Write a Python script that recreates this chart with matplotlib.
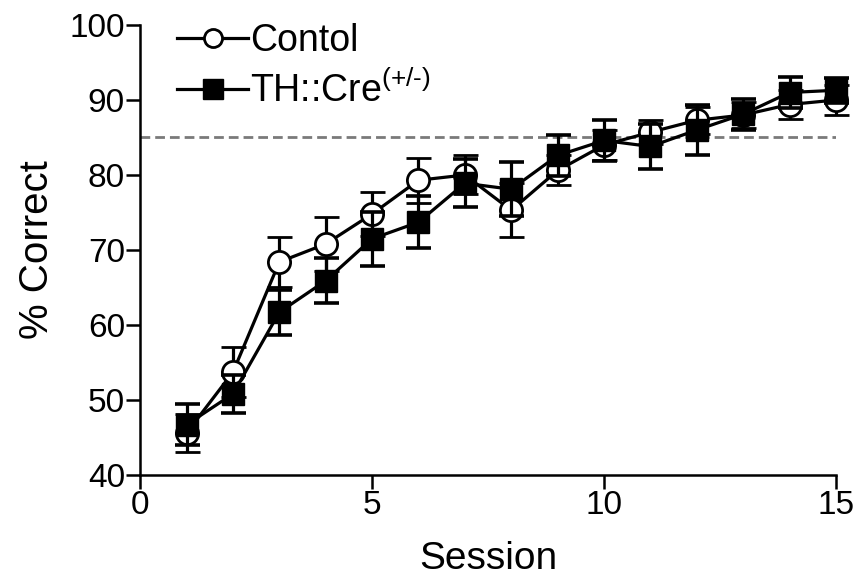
import matplotlib
matplotlib.use("Agg")
import matplotlib.pyplot as plt
from matplotlib.lines import Line2D

plt.rcParams["font.family"] = ["Liberation Sans", "DejaVu Sans"]
plt.rcParams["mathtext.fontset"] = "custom"
plt.rcParams["mathtext.rm"] = "Liberation Sans"
plt.rcParams["mathtext.default"] = "regular"

sessions = list(range(1, 16))
control_mean = [45.6, 53.7, 68.4, 70.8, 74.8, 79.3, 80.0, 75.3, 80.6, 84.0, 85.7, 87.3, 88.0, 89.4, 90.0]
control_sem = [2.5, 3.3, 3.3, 3.6, 2.9, 3.0, 2.6, 3.6, 2.0, 2.0, 1.6, 1.8, 1.8, 1.9, 2.0]
th_mean = [46.7, 50.8, 61.7, 65.9, 71.5, 73.7, 78.9, 78.1, 82.6, 84.6, 83.8, 86.0, 88.1, 91.0, 91.3]
th_sem = [2.7, 2.5, 3.0, 3.0, 3.6, 3.5, 3.2, 3.6, 2.7, 2.8, 3.0, 3.4, 2.1, 2.1, 1.7]
criterion = 85

fig = plt.figure(figsize=(8.6, 5.82), dpi=100)
ax = fig.add_axes([0.163, 0.184, 0.809, 0.773])

ax.axhline(criterion, color="#7a7a7a", linewidth=2.0, linestyle=(0, (3.5, 1.8)), zorder=1)

ax.errorbar(sessions, control_mean, yerr=control_sem, color="black",
            marker="o", markersize=16, markerfacecolor="white", markeredgewidth=2,
            linewidth=2.3, elinewidth=2.3, capsize=9, capthick=2.6,
            clip_on=False, zorder=3)
ax.errorbar(sessions, th_mean, yerr=th_sem, color="black",
            marker="s", markersize=16, markerfacecolor="black",
            linewidth=2.3, elinewidth=2.3, capsize=9, capthick=2.6,
            clip_on=False, zorder=4)

ax.set_xlim(0, 15)
ax.set_ylim(40, 100)
ax.set_xticks([0, 5, 10, 15])
ax.set_yticks(range(40, 101, 10))
ax.spines["top"].set_visible(False)
ax.spines["right"].set_visible(False)
ax.spines["left"].set_linewidth(1.8)
ax.spines["bottom"].set_linewidth(1.8)
ax.tick_params(axis="both", direction="out", length=10, width=1.8, labelsize=24, pad=1)

ax.set_xlabel("Session", fontsize=28, labelpad=14)
ax.set_ylabel("% Correct", fontsize=29, labelpad=10)

# legend shows plain line+marker, no error bars
handles = [
    Line2D([], [], color="black", linewidth=2.3, marker="o", markersize=13,
           markerfacecolor="white", markeredgewidth=2),
    Line2D([], [], color="black", linewidth=2.3, marker="s", markersize=14,
           markerfacecolor="black"),
]
labels = ["Contol", r"TH::Cre$^{(+/\text{-})}$"]
fig.legend(handles, labels, loc="upper left", bbox_to_anchor=(0.184, 0.993),
           frameon=False, fontsize=27, handlelength=1.9, handletextpad=0.05,
           labelspacing=0.35, borderpad=0)

fig.savefig("out.png", dpi=100)
